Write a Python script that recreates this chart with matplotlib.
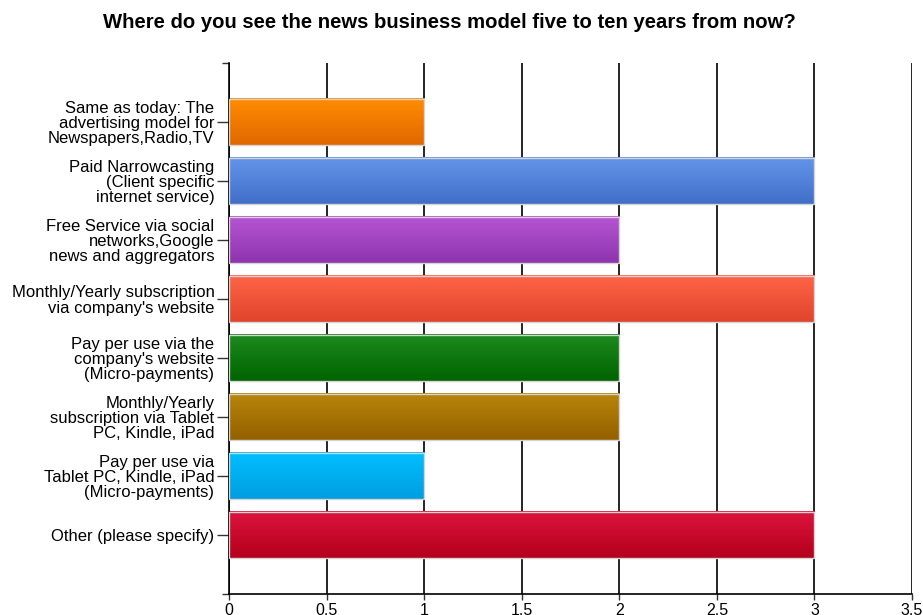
import numpy as np
import matplotlib
matplotlib.use('Agg')
import matplotlib.pyplot as plt
from matplotlib.colors import LinearSegmentedColormap

plt.rcParams['font.family'] = ['Liberation Sans', 'DejaVu Sans']

title = "Where do you see the news business model five to ten years from now?"

categories = [
    "Same as today: The\nadvertising model for\nNewspapers,Radio,TV",
    "Paid Narrowcasting\n(Client specific\ninternet service)",
    "Free Service via social\nnetworks,Google\nnews and aggregators",
    "Monthly/Yearly subscription\nvia company's website",
    "Pay per use via the\ncompany's website\n(Micro-payments)",
    "Monthly/Yearly\nsubscription via Tablet\nPC, Kindle, iPad",
    "Pay per use via\nTablet PC, Kindle, iPad\n(Micro-payments)",
    "Other (please specify)",
]
values = [1, 3, 2, 3, 2, 2, 1, 3]

# top / bottom colour of each bar's vertical gradient
top_colors = ['#ff8c00', '#6494ea', '#b655d2', '#ff6448', '#1e8a1e', '#b8860b', '#00bfff', '#dc143c']
bottom_colors = ['#e06800', '#416fc8', '#8e34ae', '#e0452c', '#006400', '#946000', '#009ee0', '#b4001c']

xticks = [0, 0.5, 1, 1.5, 2, 2.5, 3, 3.5]

fig = plt.figure(figsize=(9.23, 6.15), dpi=100)
ax = fig.add_axes([229 / 923, 1 - 594 / 615, (912 - 229) / 923, (594 - 63) / 615])

y = np.arange(len(categories))
bars = ax.barh(y, values, height=0.78, facecolor='none', edgecolor='#d4d4d4', linewidth=1, zorder=3)

grad = np.linspace(0, 1, 64).reshape(-1, 1)
for bar, c_top, c_bot in zip(bars, top_colors, bottom_colors):
    cmap = LinearSegmentedColormap.from_list('g', [c_top, c_bot])
    x0, y0 = bar.get_x(), bar.get_y()
    w, h = bar.get_width(), bar.get_height()
    ax.imshow(grad, cmap=cmap, aspect='auto', interpolation='bicubic',
              extent=(x0, x0 + w, y0 + h, y0), zorder=2)

ax.set_xlim(0, 3.5)
ax.set_ylim(8, -1)
ax.set_xticks(xticks)
ax.set_xticklabels([f"{t:g}" for t in xticks], fontsize=11.5)
ax.set_yticks(y)
ax.set_yticklabels(categories, fontsize=12, linespacing=1.0)
ax.set_yticks([-1, 8], minor=True)
ax.tick_params(axis='y', which='major', length=9, width=1, pad=1.5, color='#333333')
ax.tick_params(axis='y', which='minor', length=5, width=1, color='#333333')
ax.tick_params(axis='x', length=4.5, width=1, pad=2, color='#333333')

ax.grid(axis='x', color='black', linewidth=1.2, zorder=1)
ax.grid(axis='y', visible=False)
ax.set_axisbelow(True)
for side in ['top', 'right']:
    ax.spines[side].set_visible(False)
for side in ['left', 'bottom']:
    ax.spines[side].set_color('black')
    ax.spines[side].set_linewidth(1.2)

fig.text(449 / 923, 1 - 22 / 615, title, ha='center', va='center',
         fontsize=14.6, fontweight='bold')

fig.savefig('out.png', dpi=100)
